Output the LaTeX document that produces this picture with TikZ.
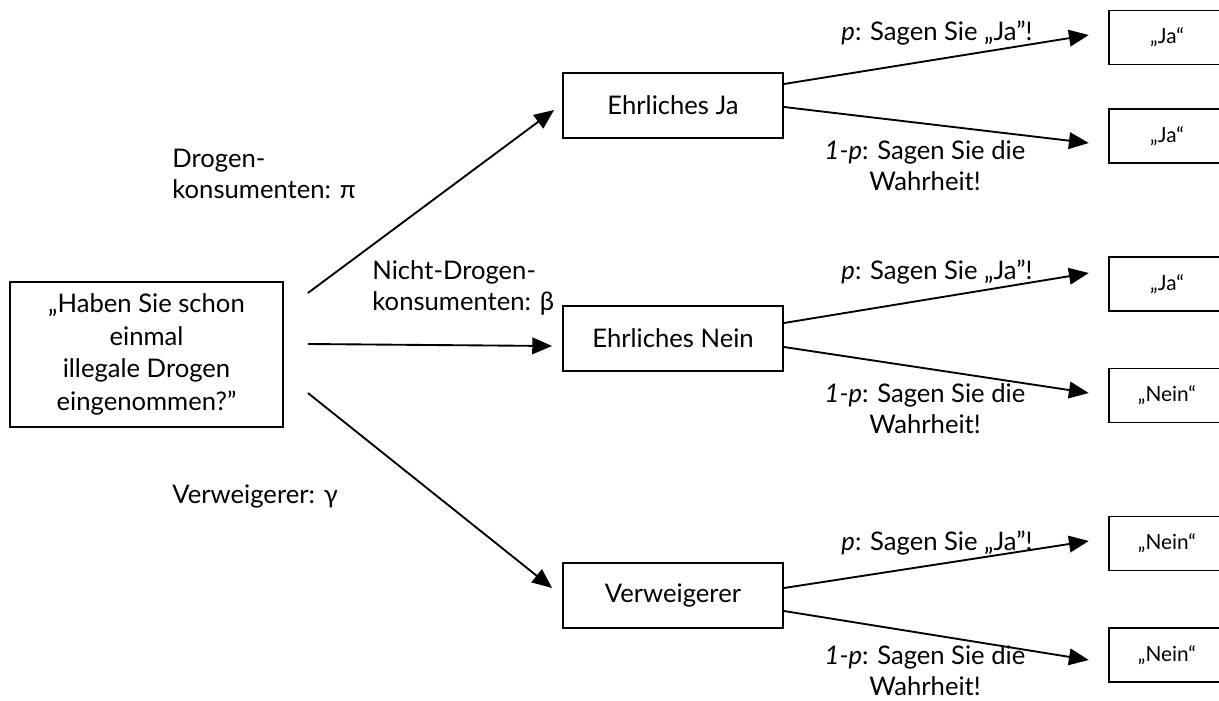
\documentclass[tikz,border=0pt]{standalone}
\usepackage{fontspec}
\setmainfont{Lato}
\usetikzlibrary{arrows.meta,calc}
\tikzset{
  box/.style={draw, line width=0.9pt, rectangle, inner sep=0pt, font=\fontsize{12.3}{15.6}\selectfont, align=center},
  midbox/.style={box, minimum width=105.6pt, minimum height=31.2pt},
  outbox/.style={box, minimum width=56pt, minimum height=25.9pt, font=\fontsize{10}{12}\selectfont},
  lab/.style={inner sep=0pt, font=\fontsize{12.3}{15}\selectfont},
  arr/.style={line width=0.9pt, -{Triangle[length=9.5pt,width=8pt]}}
}
\begin{document}
\begin{tikzpicture}[x=0.48pt,y=-0.48pt]
\useasboundingbox (0,0) rectangle (1219,701);
\node[box, minimum width=131pt, minimum height=69.6pt] (q) at (146.5,354.5)
  {„Haben Sie schon\\einmal\\illegale Drogen\\eingenommen?”};
\node[midbox] (ja) at (673,105.5) {Ehrliches Ja};
\node[midbox] (nein) at (673,338.5) {Ehrliches Nein};
\node[midbox] (verw) at (673,595.5) {Verweigerer};
\node[outbox] (r1) at (1167,37.5) {„Ja“};
\node[outbox] (r2) at (1167,136) {„Ja“};
\node[outbox] (r3) at (1167,284) {„Ja“};
\node[outbox] (r4) at (1167,395.5) {„Nein“};
\node[outbox] (r5) at (1167,543.5) {„Nein“};
\node[outbox] (r6) at (1167,655) {„Nein“};
% left arrows
\draw[arr] ($(q.east)+(24,-61.5)$) -- ($(ja.west)+(-8,4.5)$);
\draw[arr] ($(q.east)+(24,-10.5)$) -- ($(nein.west)+(-10,7.5)$);
\draw[arr] ($(q.east)+(24,38.5)$) -- ($(verw.west)+(-10,-7.5)$);
% right arrows
\draw[arr] ($(ja.east)+(0,-21.5)$) -- ($(r1.west)+(-19,-2.5)$);
\draw[arr] ($(ja.east)+(0,1.5)$) -- ($(r2.west)+(-19,7)$);
\draw[arr] ($(nein.east)+(0,-15.5)$) -- ($(r3.west)+(-19,-11)$);
\draw[arr] ($(nein.east)+(0,8.5)$) -- ($(r4.west)+(-19,-2.5)$);
\draw[arr] ($(verw.east)+(0,-7.5)$) -- ($(r5.west)+(-19,-2.5)$);
\draw[arr] ($(verw.east)+(0,15.5)$) -- ($(r6.west)+(-19,5)$);
% labels
\node[lab, anchor=west, align=left] (l1) at (172,174) {Drogen-\\konsumenten: π};
\node[lab, anchor=west, align=left] (l2) at (372,288) {Nicht-Drogen-\\konsumenten: β};
\node[lab, anchor=west] (l3) at (172,496) {Verweigerer: γ};
\node[lab] (pa1) at (937,33) {\textit{p}: Sagen Sie „Ja”!};
\node[lab, align=center] (pb1) at (925,165.5) {\textit{1-p}: Sagen Sie die\\Wahrheit!};
\node[lab] (pa2) at (937,272) {\textit{p}: Sagen Sie „Ja”!};
\node[lab, align=center] (pb2) at (925,409) {\textit{1-p}: Sagen Sie die\\Wahrheit!};
\node[lab] (pa3) at (937,543) {\textit{p}: Sagen Sie „Ja”!};
\node[lab, align=center] (pb3) at (925,671) {\textit{1-p}: Sagen Sie die\\Wahrheit!};
\end{tikzpicture}
\end{document}
